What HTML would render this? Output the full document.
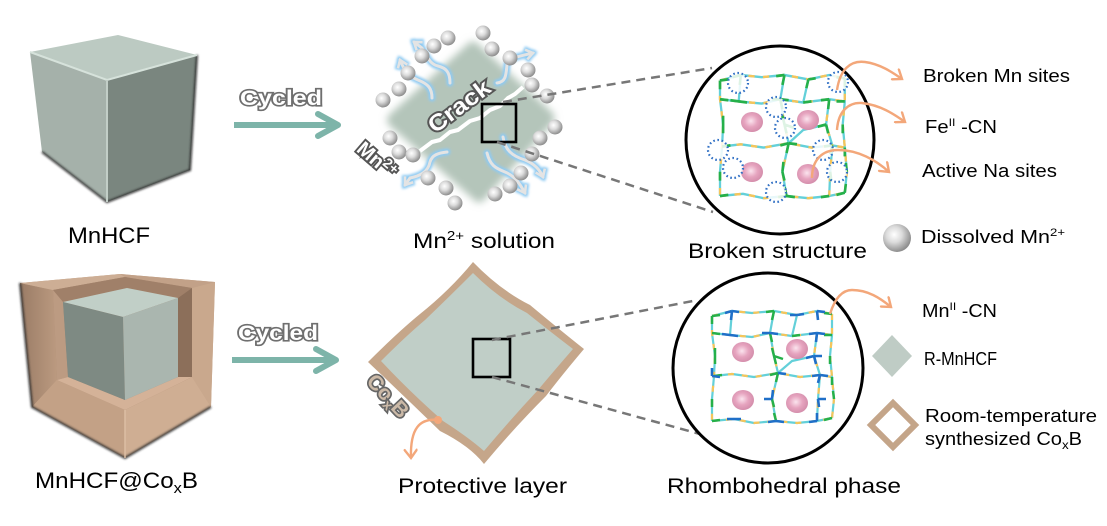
<!DOCTYPE html>
<html><head><meta charset="utf-8"><style>
html,body{margin:0;padding:0;background:#fff;}
svg{display:block;}
text{font-family:"Liberation Sans",Arial,sans-serif;}
</style></head><body>
<svg width="1107" height="526" viewBox="0 0 1107 526" xmlns="http://www.w3.org/2000/svg">
<defs>
  <radialGradient id="sph" cx="40%" cy="38%" r="62%">
    <stop offset="0" stop-color="#ffffff"/>
    <stop offset="0.45" stop-color="#dcdcdc"/>
    <stop offset="1" stop-color="#8e8e8e"/>
  </radialGradient>
  <radialGradient id="pink" cx="45%" cy="45%" r="60%">
    <stop offset="0" stop-color="#fbe4ee"/>
    <stop offset="0.5" stop-color="#e6a4bf"/>
    <stop offset="1" stop-color="#d18aa8"/>
  </radialGradient>
  <linearGradient id="leftTan" x1="0" y1="0" x2="1" y2="0">
    <stop offset="0" stop-color="#9a7c66"/>
    <stop offset="1" stop-color="#bb9a80"/>
  </linearGradient>
  <filter id="blur4" x="-20%" y="-20%" width="140%" height="140%"><feGaussianBlur stdDeviation="4"/></filter>
  <filter id="blur2" x="-20%" y="-20%" width="140%" height="140%"><feGaussianBlur stdDeviation="1.3"/></filter>
  <filter id="blur1" x="-20%" y="-20%" width="140%" height="140%"><feGaussianBlur stdDeviation="1"/></filter>
  <marker id="oa" markerWidth="14" markerHeight="14" refX="10" refY="7" orient="auto" markerUnits="userSpaceOnUse">
    <path d="M2,1 L10,7 L2,13" fill="none" stroke="#f3a77a" stroke-width="2.4" stroke-linecap="round"/>
  </marker>
  <marker id="wa" markerWidth="14" markerHeight="14" refX="9" refY="7" orient="auto" markerUnits="userSpaceOnUse">
    <path d="M2,2 L9,7 L2,12" fill="none" stroke="#e4e4e4" stroke-width="2.6"/>
  </marker>
  <marker id="ba" markerWidth="18" markerHeight="18" refX="11" refY="9" orient="auto" markerUnits="userSpaceOnUse">
    <path d="M3,3 L11,9 L3,15" fill="none" stroke="#8fcaf2" stroke-width="6"/>
  </marker>
  <g id="bonds" fill="none" stroke-linejoin="round">
    <g stroke="#63d0d9" stroke-width="2.2">
      <polyline points="0,5 20,0 40,2 62,0 85,4 105,0 120,3"/>
      <polyline points="0,22 18,24 40,26 58,22 80,25 105,22 120,24"/>
      <polyline points="2,65 20,63 42,66 66,62 88,66 108,64 120,66"/>
      <polyline points="0,110 22,108 42,112 64,110 85,112 105,110 120,107"/>
      <polyline points="0,5 0,22 3,45 2,65 0,88 0,110"/>
      <polyline points="58,22 62,45 66,62 60,88 64,110"/>
      <polyline points="105,22 102,45 108,64 106,88 105,110"/>
      <polyline points="120,3 120,24 118,45 120,66 122,88 120,107"/>
      <polyline points="20,0 18,24"/>
      <polyline points="85,4 80,25"/>
      <polyline points="62,0 58,22"/>
      <polyline points="66,62 80,50 102,45"/>
    </g>
    <g stroke="#f6c55a" stroke-width="2.2" stroke-dasharray="6 8">
      <polyline points="0,5 20,0 40,2 62,0 85,4 105,0 120,3"/>
      <polyline points="0,22 18,24 40,26 58,22 80,25 105,22 120,24"/>
      <polyline points="2,65 20,63 42,66 66,62 88,66 108,64 120,66"/>
      <polyline points="0,110 22,108 42,112 64,110 85,112 105,110 120,107"/>
      <polyline points="0,5 0,22 3,45 2,65 0,88 0,110"/>
      <polyline points="58,22 62,45 66,62 60,88 64,110"/>
      <polyline points="105,22 102,45 108,64 106,88 105,110"/>
      <polyline points="120,3 120,24 118,45 120,66 122,88 120,107"/>
    </g>
  </g>
</defs>

<!-- ===== TOP ROW ===== -->
<g>
  <polygon points="30,52 118,35 197,55 107,80" fill="#bccac2"/>
  <polygon points="30,52 107,80 107,202 42,152" fill="#a5b1aa"/>
  <polygon points="107,80 197,55 190,170 107,202" fill="#7a867f"/>
  <polyline points="42,152 107,202 190,170 197,55" fill="none" stroke="#2a2a2a" stroke-width="2" filter="url(#blur1)"/>
  <polyline points="30,52 107,80 197,55" fill="none" stroke="#d6e2db" stroke-width="2"/>
  <line x1="107" y1="80" x2="107" y2="202" stroke="#c2cec7" stroke-width="2"/>
</g>
<text x="68" y="243" font-size="22" textLength="82" lengthAdjust="spacingAndGlyphs">MnHCF</text>

<text x="240" y="105" font-size="21" font-weight="bold" fill="#ffffff" stroke="#6f6f6f" stroke-width="3.2" paint-order="stroke" textLength="82" lengthAdjust="spacingAndGlyphs">Cycled</text>
<line x1="234" y1="125" x2="334" y2="125" stroke="#7db4a9" stroke-width="6"/>
<polyline points="318,114 338,125 318,136" fill="none" stroke="#7db4a9" stroke-width="6" stroke-linecap="round" stroke-linejoin="round"/>

<!-- cracked particle -->
<path d="M470,42 Q475,40 480,46 L552,112 Q557,118 552,124 L484,200 Q479,205 474,200 L390,126 Q384,120 390,114 Z" fill="#b4c5ba" filter="url(#blur4)"/>
<polyline points="420,151 432,142 440,140 450,132 458,130 470,121 480,118 490,110 500,106 508,98 515,94 523,87" fill="none" stroke="#ffffff" stroke-width="4" stroke-linejoin="round"/>
<g fill="none" stroke-linecap="round">
  <g stroke="#8fcaf2" stroke-width="7" filter="url(#blur2)">
    <path d="M450,83 C450,72 446,68 438,66 C430,64 428,58 422,48 L414,42" marker-end="url(#ba)"/>
    <path d="M432,98 C432,88 428,84 418,80 C408,76 404,70 400,60" marker-end="url(#ba)"/>
    <path d="M497,83 C506,82 506,75 507,65 C508,58 520,56 533,53" marker-end="url(#ba)"/>
    <path d="M503,137 C505,150 512,156 525,160 C535,164 540,170 543,177" marker-end="url(#ba)"/>
    <path d="M487,153 C490,165 495,168 505,172 C515,176 520,184 525,193" marker-end="url(#ba)"/>
    <path d="M447,152 C438,153 432,155 430,162 C428,172 420,176 410,178 L405,185" marker-end="url(#ba)"/>
  </g>
  <g stroke="#e4e4e4" stroke-width="3">
    <path d="M450,83 C450,72 446,68 438,66 C430,64 428,58 422,48 L414,42" marker-end="url(#wa)"/>
    <path d="M432,98 C432,88 428,84 418,80 C408,76 404,70 400,60" marker-end="url(#wa)"/>
    <path d="M497,83 C506,82 506,75 507,65 C508,58 520,56 533,53" marker-end="url(#wa)"/>
    <path d="M503,137 C505,150 512,156 525,160 C535,164 540,170 543,177" marker-end="url(#wa)"/>
    <path d="M487,153 C490,165 495,168 505,172 C515,176 520,184 525,193" marker-end="url(#wa)"/>
    <path d="M447,152 C438,153 432,155 430,162 C428,172 420,176 410,178 L405,185" marker-end="url(#wa)"/>
  </g>
</g>
<g fill="url(#sph)">
  <circle cx="483" cy="33" r="7.5"/><circle cx="448" cy="38" r="7.5"/><circle cx="434" cy="46" r="7.5"/>
  <circle cx="492" cy="49" r="7.5"/><circle cx="510" cy="58" r="7.5"/><circle cx="422" cy="56" r="7.5"/>
  <circle cx="528" cy="70" r="7.5"/><circle cx="408" cy="73" r="7.5"/><circle cx="532" cy="85" r="7.5"/>
  <circle cx="399" cy="89" r="7.5"/><circle cx="547" cy="96" r="7.5"/><circle cx="383" cy="100" r="7.5"/>
  <circle cx="555" cy="127" r="7.5"/><circle cx="540" cy="138" r="7.5"/><circle cx="390" cy="138" r="7.5"/>
  <circle cx="399" cy="152" r="7.5"/><circle cx="413" cy="155" r="7.5"/><circle cx="532" cy="154" r="7.5"/>
  <circle cx="521" cy="173" r="7.5"/><circle cx="510" cy="186" r="7.5"/><circle cx="428" cy="178" r="7.5"/>
  <circle cx="446" cy="188" r="7.5"/><circle cx="495" cy="194" r="7.5"/><circle cx="455" cy="203" r="7.5"/>
</g>
<text transform="translate(459,106) rotate(-37)" text-anchor="middle" y="8" font-size="23" font-weight="bold" fill="#ffffff" stroke="#555" stroke-width="3.8" paint-order="stroke" textLength="72" lengthAdjust="spacingAndGlyphs">Crack</text>
<text transform="translate(377,160) rotate(41)" text-anchor="middle" y="7" font-size="20" font-weight="bold" fill="#ffffff" stroke="#555" stroke-width="3.8" paint-order="stroke">Mn<tspan font-size="14" dy="-7">2+</tspan></text>
<rect x="482" y="104" width="34" height="38" fill="none" stroke="#000" stroke-width="2.6"/>
<line x1="503" y1="102" x2="712" y2="68" stroke="#777" stroke-width="2.5" stroke-dasharray="9 6"/>
<line x1="497" y1="142" x2="713" y2="212" stroke="#777" stroke-width="2.5" stroke-dasharray="9 6"/>
<text x="413" y="248" font-size="21" textLength="142" lengthAdjust="spacingAndGlyphs">Mn<tspan font-size="13" dy="-8">2+</tspan><tspan dy="8"> solution</tspan></text>

<!-- circle 1 -->
<circle cx="780" cy="140" r="94" fill="#fff" stroke="#000" stroke-width="3"/>
<g transform="translate(720,75) scale(1.04,1.1)">
  <use href="#bonds"/>
  <path fill="none" stroke="#25b04a" stroke-width="2.5" d="M0,5 L8,4 M0,5 L0,13 M20,0 L12,2 M20,0 L19,9 M62,0 L54,1 M62,0 L60,9 M85,4 L92,3 M85,4 L83,12 M120,3 L112,2 M120,3 L120,11
  M0,22 L8,23 M18,24 L26,25 M18,24 L10,23 M58,22 L50,22 M58,22 L66,23 M58,22 L60,31 M80,25 L88,24 M105,22 L97,23 M105,22 L104,31 M120,24 L112,24
  M3,45 L3,37 M3,45 L3,53 M62,45 L60,37 M62,45 L64,53 M62,45 L71,48 M102,45 L94,47 M102,45 L104,53 M118,45 L118,53
  M2,65 L10,64 M66,62 L58,64 M66,62 L74,63 M66,62 L64,71 M108,64 L100,65 M108,64 L106,72 M120,66 L120,74
  M0,88 L0,96 M60,88 L61,79 M60,88 L62,96 M106,88 L107,96 M122,88 L121,80
  M0,110 L8,109 M64,110 L56,111 M64,110 L72,111 M64,110 L62,102 M105,110 L97,111 M120,107 L112,109 M120,107 L121,99"/>
</g>
<g fill="url(#pink)">
  <ellipse cx="752" cy="122" rx="11" ry="10"/><ellipse cx="808" cy="120" rx="11" ry="10"/>
  <ellipse cx="752" cy="172" rx="11" ry="10"/><ellipse cx="808" cy="174" rx="11" ry="10"/>
</g>
<g fill="#fff" fill-opacity="0.85" stroke="#2f6fc4" stroke-width="2.2" stroke-dasharray="1.6 2.6">
  <circle cx="738" cy="83" r="10"/><circle cx="776" cy="107" r="10"/><circle cx="785" cy="128" r="10"/>
  <circle cx="838" cy="82" r="10"/><circle cx="718" cy="150" r="10"/><circle cx="733" cy="168" r="10"/>
  <circle cx="823" cy="150" r="10"/><circle cx="837" cy="172" r="10"/><circle cx="776" cy="192" r="10"/>
</g>
<g fill="none" stroke="#f3a77a" stroke-width="2.4">
  <path d="M837,90 C840,70 850,60 865,62 C880,64 892,72 902,79" marker-end="url(#oa)"/>
  <path d="M837,130 C838,112 848,102 862,103 C880,105 894,114 905,122" marker-end="url(#oa)"/>
  <path d="M812,178 C812,160 822,150 838,150 C858,150 876,160 889,172" marker-end="url(#oa)"/>
</g>
<text x="688" y="258" font-size="21" textLength="179" lengthAdjust="spacingAndGlyphs">Broken structure</text>

<text x="923" y="82" font-size="18" textLength="147" lengthAdjust="spacingAndGlyphs">Broken Mn sites</text>
<text x="925" y="133" font-size="18" textLength="72" lengthAdjust="spacingAndGlyphs">Fe<tspan font-size="11" dy="-7">II</tspan><tspan dy="7"> -CN</tspan></text>
<text x="922" y="177" font-size="18" textLength="135" lengthAdjust="spacingAndGlyphs">Active Na sites</text>
<circle cx="897" cy="238" r="14" fill="url(#sph)"/>
<text x="921" y="243" font-size="18" textLength="144" lengthAdjust="spacingAndGlyphs">Dissolved  Mn<tspan font-size="11" dy="-7">2+</tspan></text>

<!-- ===== BOTTOM ROW ===== -->
<g>
  <polygon points="20,283 120,274 215,282 211,407 125,458 32,407" fill="#c6a68c"/>
  <polygon points="20,283 53,290 57,380 32,407" fill="url(#leftTan)"/>
  <polygon points="32,407 57,380 125,410 125,458" fill="#c3a186"/>
  <polygon points="125,410 192,377 211,407 125,458" fill="#cfae93"/>
  <polygon points="192,288 215,282 211,407 192,377" fill="#c9a88d"/>
  <polygon points="20,283 120,274 125,277 53,290" fill="#cdae95"/>
  <polygon points="120,274 215,282 192,288 125,277" fill="#c2a188"/>
  <polygon points="53,290 125,277 192,288 192,377 125,410 57,380" fill="#a78770"/>
  <polygon points="53,290 125,277 192,288 178,298 127,288 63,302" fill="#a08069"/>
  <polygon points="178,298 192,288 192,377 178,377" fill="#8c6f5a"/>
  <polygon points="53,290 63,302 68,377 57,380" fill="#bc9b82"/>
  <polygon points="57,380 68,377 125,400 178,377 192,377 125,410" fill="#d4b298"/>
  <polygon points="63,302 127,288 178,298 123,317" fill="#c1cfc7"/>
  <polygon points="63,302 123,317 125,400 68,377" fill="#7e8a83"/>
  <polygon points="123,317 178,298 178,377 125,400" fill="#aab6af"/>
  <polyline points="20,283 32,407 125,458 211,407" fill="none" stroke="#2a2a2a" stroke-width="2" filter="url(#blur1)"/>
  <line x1="125" y1="410" x2="125" y2="458" stroke="#dcbea4" stroke-width="1.5"/>
</g>
<text x="35" y="488" font-size="22" textLength="163" lengthAdjust="spacingAndGlyphs">MnHCF@Co<tspan font-size="15" dy="5">x</tspan><tspan dy="-5">B</tspan></text>

<text x="238" y="340" font-size="21" font-weight="bold" fill="#ffffff" stroke="#6f6f6f" stroke-width="3.2" paint-order="stroke" textLength="80" lengthAdjust="spacingAndGlyphs">Cycled</text>
<line x1="232" y1="360" x2="332" y2="360" stroke="#7db4a9" stroke-width="6"/>
<polyline points="316,349 336,360 316,371" fill="none" stroke="#7db4a9" stroke-width="6" stroke-linecap="round" stroke-linejoin="round"/>

<path d="M473,262 Q500,290 530,305 Q560,330 584,349 Q562,375 546,396 Q515,427 484,464 Q470,446 440,431 Q404,396 368,362 Q398,332 420,314 Q450,290 473,262 Z" fill="#c5a68a"/>
<path d="M473,273 Q498,298 527,313 Q552,333 573,349 Q553,372 538,390 Q510,420 484,451 Q468,437 443,421 Q410,392 381,361 Q406,336 425,320 Q450,296 473,273 Z" fill="#c0cec7"/>
<rect x="473" y="339" width="37" height="38" fill="none" stroke="#000" stroke-width="2.6"/>
<line x1="492" y1="340" x2="698" y2="300" stroke="#777" stroke-width="2.5" stroke-dasharray="9 6"/>
<line x1="492" y1="377" x2="700" y2="434" stroke="#777" stroke-width="2.5" stroke-dasharray="9 6"/>
<text transform="translate(388,396) rotate(47)" text-anchor="middle" y="7" font-size="21" font-weight="bold" fill="#cbb9a7" stroke="#666" stroke-width="3.4" paint-order="stroke">Co<tspan font-size="14" dy="4">x</tspan><tspan dy="-4">B</tspan></text>
<circle cx="438" cy="420" r="4" fill="#f3a77a"/>
<path d="M438,420 C420,418 410,428 411,458" fill="none" stroke="#f3a77a" stroke-width="2.4" marker-end="url(#oa)"/>
<text x="398" y="493" font-size="21" textLength="169" lengthAdjust="spacingAndGlyphs">Protective layer</text>

<circle cx="768" cy="368" r="95" fill="#fff" stroke="#000" stroke-width="3"/>
<g transform="translate(712,311)">
  <use href="#bonds"/>
  <path fill="none" stroke="#25b04a" stroke-width="2.5" d="M0,5 L8,4 M0,5 L0,13 M62,0 L54,1 M62,0 L60,9 M120,3 L112,2
  M0,22 L8,23 M58,22 L60,31 M80,25 L88,24 M120,24 L112,24
  M3,45 L3,37 M3,45 L3,53 M62,45 L60,37 M62,45 L64,53 M62,45 L71,48 M118,45 L118,53
  M2,65 L10,64 M66,62 L58,64 M66,62 L64,71 M120,66 L120,74
  M0,88 L0,96 M60,88 L62,96 M122,88 L121,80
  M0,110 L8,109 M64,110 L62,102 M120,107 L112,109"/>
  <path fill="none" stroke="#1f6fc8" stroke-width="2.6" d="M20,0 L13,2 M20,0 L27,1 M20,0 L19,9 M85,4 L92,3 M85,4 L78,4 M105,0 L113,1 M105,0 L106,9
  M18,24 L26,25 M18,24 L10,23 M58,22 L50,22 M58,22 L66,23 M105,22 L97,23 M105,22 L113,23 M105,22 L104,31
  M102,45 L94,47 M102,45 L104,53 M102,45 L110,45 M108,64 L100,65 M108,64 L106,72 M108,64 L116,65 M66,62 L74,63
  M0,65 L8,66 M0,65 L0,57 M60,88 L61,79 M60,88 L52,88 M106,88 L107,96 M106,88 L114,88
  M64,110 L56,111 M64,110 L72,111 M105,110 L97,111 M105,110 L105,102 M22,108 L15,108 M22,108 L29,108"/>
</g>
<g fill="url(#pink)">
  <ellipse cx="743" cy="352" rx="11" ry="10"/><ellipse cx="797" cy="349" rx="11" ry="10"/>
  <ellipse cx="743" cy="400" rx="11" ry="10"/><ellipse cx="797" cy="403" rx="11" ry="10"/>
</g>
<path d="M830,314 C835,298 842,290 852,290 C868,290 880,298 891,307" fill="none" stroke="#f3a77a" stroke-width="2.4" marker-end="url(#oa)"/>
<text x="667" y="493" font-size="21" textLength="234" lengthAdjust="spacingAndGlyphs">Rhombohedral phase</text>

<text x="922" y="317" font-size="18" textLength="75" lengthAdjust="spacingAndGlyphs">Mn<tspan font-size="11" dy="-7">II</tspan><tspan dy="7"> -CN</tspan></text>
<polygon points="892,335 912,356 892,377 872,356" fill="#bfccc5"/>
<text x="924" y="365" font-size="18" textLength="73" lengthAdjust="spacingAndGlyphs">R-MnHCF</text>
<polygon points="893,403 915,425 893,447 871,425" fill="none" stroke="#c4a589" stroke-width="6"/>
<text x="925" y="422" font-size="18" textLength="172" lengthAdjust="spacingAndGlyphs">Room-temperature</text>
<text x="925" y="445" font-size="18" textLength="157" lengthAdjust="spacingAndGlyphs">synthesized Co<tspan font-size="12" dy="4">x</tspan><tspan dy="-4">B</tspan></text>
</svg>
</body></html>
